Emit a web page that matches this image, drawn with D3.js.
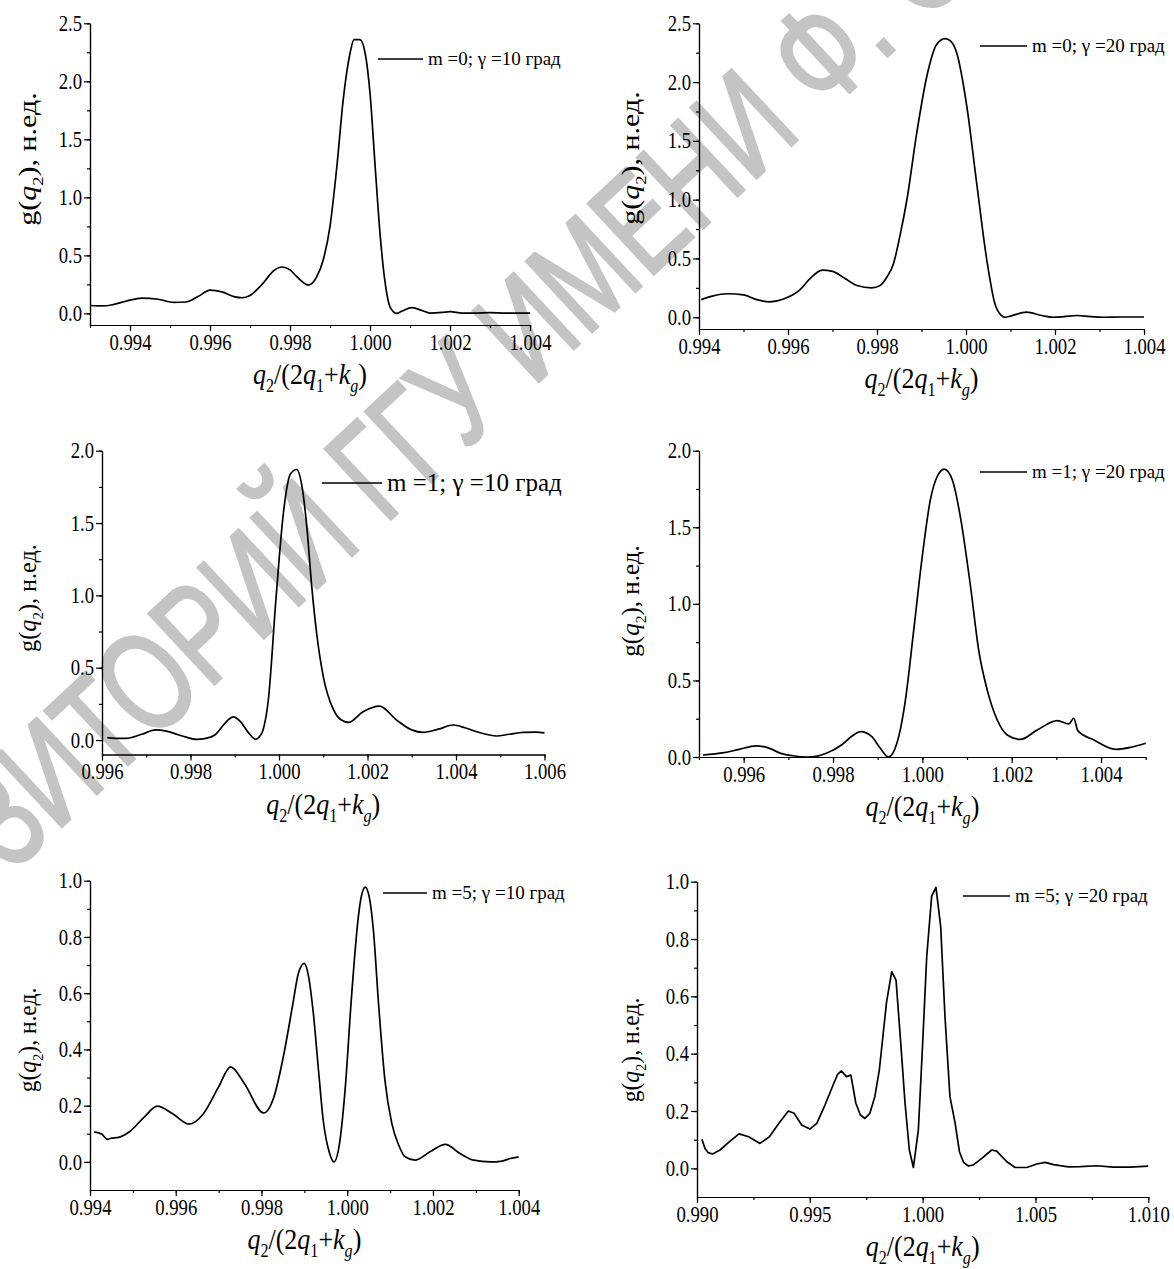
<!DOCTYPE html>
<meta charset="utf-8">
<body style="margin:0;background:#fff">
<svg width="1174" height="1269" style="display:block;background:#fff"></svg>
<script src="https://d3js.org/d3.v7.min.js"></script>
<script>

// curves: [q2/(2q1+kg), g(q2)]
var m0g10 = [[0.9930,0.068],[0.9932,0.065],[0.9934,0.066],[0.9936,0.078],[0.9939,0.105],[0.9943,0.132],[0.9947,0.122],
  [0.9951,0.095],[0.9954,0.098],[0.9957,0.145],[0.9960,0.200],[0.9963,0.185],[0.9966,0.145],[0.9968,0.135],[0.9970,0.155],
  [0.9973,0.250],[0.9976,0.370],[0.9978,0.400],[0.9980,0.375],[0.99817,0.316],[0.99846,0.244],[0.99867,0.316],[0.99883,0.46],
  [0.9990,0.75],[0.99917,1.26],[0.99933,1.84],[0.9995,2.24],[0.9996,2.36],[0.99975,2.36],[0.99988,2.24],[1.0000,1.90],
  [1.00013,1.26],[1.00025,0.69],[1.00038,0.26],[1.0005,0.057],[1.00067,0.0],[1.0008,0.02],[1.00105,0.05],[1.0013,0.025],
  [1.0015,0.003],[1.0018,0.008],[1.0020,0.016],[1.0023,0.003],[1.0026,0.002],[1.0030,0.006],[1.0034,0.002],[1.0040,0.002]];

var m0g20 = [[0.99405,0.15],[0.9943,0.18],[0.99464,0.20],[0.9950,0.19],[0.9953,0.15],[0.99558,0.13],[0.9959,0.155],
  [0.99626,0.23],[0.9965,0.33],[0.99677,0.40],[0.9970,0.39],[0.99728,0.33],[0.99755,0.27],[0.99788,0.25],[0.99807,0.27],
  [0.99822,0.34],[0.99837,0.455],[0.99852,0.70],[0.99867,0.995],[0.99889,1.56],[0.99912,2.05],[0.99934,2.32],[0.99953,2.37],
  [0.99965,2.35],[0.99979,2.25],[1.00002,1.79],[1.00024,1.14],[1.00047,0.48],[1.00065,0.114],[1.00078,0.02],[1.00088,0.0],
  [1.0010,0.01],[1.00136,0.043],[1.0017,0.015],[1.00196,0.0],[1.0022,0.005],[1.00249,0.015],[1.0028,0.005],[1.0031,0.0],
  [1.0035,0.002],[1.0040,0.002]];

var m1g10 = [[0.99612,0.016],[0.9963,0.012],[0.99654,0.012],[0.9969,0.04],[0.99721,0.07],[0.99745,0.062],[0.99763,0.046],
  [0.9979,0.02],[0.99813,0.005],[0.99835,0.012],[0.99855,0.035],[0.99871,0.09],[0.99885,0.14],[0.99897,0.16],[0.99913,0.127],
  [0.9993,0.055],[0.99947,0.005],[0.99955,0.02],[0.99964,0.07],[0.99976,0.28],[0.99993,0.97],[1.0001,1.57],[1.00026,1.84],
  [1.0004,1.87],[1.00051,1.77],[1.00063,1.47],[1.00074,1.06],[1.00085,0.74],[1.0010,0.44],[1.00123,0.21],[1.0014,0.14],
  [1.00157,0.122],[1.0019,0.196],[1.00227,0.235],[1.00266,0.138],[1.0030,0.07],[1.00326,0.053],[1.0036,0.075],[1.00394,0.104],
  [1.0042,0.085],[1.00447,0.057],[1.00492,0.028],[1.0052,0.04],[1.00552,0.053],[1.0058,0.055],[1.0060,0.05]];

var m1g20 = [[0.99509,0.013],[0.99556,0.028],[0.9959,0.05],[0.99628,0.072],[0.99655,0.06],[0.99683,0.024],[0.9971,0.008],
  [0.99742,0.0],[0.99765,0.006],[0.99785,0.024],[0.99819,0.078],[0.99842,0.135],[0.99862,0.166],[0.99887,0.133],[0.99905,0.06],
  [0.99924,0.0],[0.99943,0.09],[0.99962,0.37],[0.9998,0.81],[0.99999,1.29],[1.00018,1.68],[1.00033,1.83],[1.00049,1.88],
  [1.00067,1.81],[1.00085,1.57],[1.00108,1.11],[1.00126,0.70],[1.00145,0.44],[1.00168,0.24],[1.0019,0.144],[1.0022,0.115],
  [1.00257,0.176],[1.00302,0.237],[1.00328,0.216],[1.00339,0.253],[1.00348,0.172],[1.00384,0.111],[1.00433,0.05],
  [1.00466,0.063],[1.0050,0.09]];

var m5g10 = [[0.9941,0.107],[0.99428,0.098],[0.99441,0.08],[0.99449,0.084],[0.99467,0.087],[0.99492,0.107],[0.99527,0.16],
  [0.99557,0.198],[0.99592,0.172],[0.99631,0.134],[0.99665,0.172],[0.9970,0.267],[0.99728,0.338],[0.9976,0.279],[0.99805,0.174],
  [0.99829,0.231],[0.99851,0.374],[0.99873,0.56],[0.99886,0.67],[0.9990,0.706],[0.9991,0.658],[0.99921,0.528],[0.99933,0.326],
  [0.99944,0.148],[0.99959,0.03],[0.99969,0.0],[0.99982,0.065],[0.99995,0.255],[1.0001,0.587],[1.00026,0.872],[1.00032,0.937],
  [1.00042,0.977],[1.00052,0.937],[1.00061,0.825],[1.00073,0.564],[1.00088,0.29],[1.00104,0.137],[1.0012,0.06],[1.00135,0.018],
  [1.00158,0.006],[1.00193,0.036],[1.00229,0.062],[1.00263,0.03],[1.00295,0.006],[1.00334,0.0],[1.00361,0.003],[1.0038,0.012],
  [1.0040,0.018]];

var m5g20 = [[0.99022,0.101],[0.99035,0.07],[0.99049,0.055],[0.99069,0.05],[0.99102,0.064],[0.99144,0.093],[0.99186,0.12],
  [0.99229,0.11],[0.99279,0.087],[0.99321,0.11],[0.99363,0.157],[0.99405,0.2],[0.9943,0.192],[0.99464,0.151],[0.9950,0.137],
  [0.99531,0.157],[0.99564,0.215],[0.99606,0.296],[0.99623,0.328],[0.9964,0.34],[0.99662,0.32],[0.99682,0.325],[0.99704,0.227],
  [0.99724,0.186],[0.99744,0.174],[0.99766,0.192],[0.99788,0.25],[0.99808,0.343],[0.9984,0.58],[0.99863,0.686],[0.99882,0.657],
  [0.99903,0.436],[0.99922,0.227],[0.99941,0.064],[0.99959,0.003],[0.99981,0.134],[1.0000,0.436],[1.00018,0.738],[1.0004,0.95],
  [1.00059,0.98],[1.0008,0.843],[1.00099,0.529],[1.00121,0.25],[1.00144,0.157],[1.00163,0.058],[1.00181,0.021],[1.00203,0.008],
  [1.00225,0.012],[1.00262,0.035],[1.00306,0.064],[1.00328,0.06],[1.00373,0.023],[1.0041,0.003],[1.00461,0.003],[1.00506,0.015],
  [1.00543,0.021],[1.0058,0.013],[1.00646,0.005],[1.00698,0.006],[1.00772,0.009],[1.00845,0.004],[1.00919,0.004],[1.0100,0.008]];

// tick values
var xTicksA = [0.994, 0.996, 0.998, 1.000, 1.002, 1.004];
var xTicksB = [0.996, 0.998, 1.000, 1.002, 1.004, 1.006];
var xTicksC = [0.996, 0.998, 1.000, 1.002, 1.004];
var xTicksD = [0.990, 0.995, 1.000, 1.005, 1.010];
var yTicks25 = [0.0, 0.5, 1.0, 1.5, 2.0, 2.5];
var yTicks20 = [0.0, 0.5, 1.0, 1.5, 2.0];
var yTicks10 = [0.0, 0.2, 0.4, 0.6, 0.8, 1.0];

var legends = ["m =0; \u03b3 =10 град", "m =0; \u03b3 =20 град", "m =1; \u03b3 =10 град",
               "m =1; \u03b3 =20 град", "m =5; \u03b3 =10 град", "m =5; \u03b3 =20 град"];

var serif = "'Liberation Serif','Times New Roman',serif";
var svg = d3.select("svg");

// repository watermark, under the plots
var wmText = "РЕПОЗИТОРИЙ ГГУ ИМЕНИ Ф. СКОРИНЫ";
var wm = svg.append("text")
  .attr("font-family", "'Liberation Sans',Arial,sans-serif")
  .attr("font-size", 140)
  .attr("fill", "#c4c4c4")
  .attr("stroke", "#c4c4c4")
  .attr("stroke-width", 3)
  .text(wmText);
(function() {
  var n = wm.node();
  var e1 = n.getExtentOfChar(7), e2 = n.getExtentOfChar(22);
  var c1 = [e1.x + e1.width / 2, -0.36 * 140], c2 = [e2.x + e2.width / 2, -0.36 * 140];
  var A = [145, 680], B = [818, 52];
  var ang = Math.atan2(B[1] - A[1], B[0] - A[0]) * 180 / Math.PI;
  var sx = Math.hypot(B[0] - A[0], B[1] - A[1]) / (c2[0] - c1[0]);
  wm.attr("transform", "translate(" + A + ") rotate(" + ang + ") scale(" + sx + ",1) translate(" + (-c1[0]) + "," + (-c1[1]) + ")");
})();

var panels = [
  {data: m0g10, leg: legends[0], xd: [0.993, 1.004], xr: [90, 530], yd: [-0.1, 2.5], yr: [325, 23.3],
   xt: xTicksA, xm: 0.001, yt: yTicks25, ym: 0.25, lx: [378, 423], ly: 59, lfs: 19, ytc: 159, ytx: 36, yts: 1.2, curve: d3.curveMonotoneX},
  {data: m0g20, leg: legends[1], xd: [0.994, 1.004], xr: [699, 1144], yd: [-0.1, 2.5], yr: [329, 23.3],
   xt: xTicksA, xm: 0.001, yt: yTicks25, ym: 0.25, lx: [980, 1027], ly: 46, lfs: 19, ytc: 158, ytx: 639, yts: 1.2, curve: d3.curveMonotoneX},
  {data: m1g10, leg: legends[2], xd: [0.996, 1.006], xr: [102, 544.5], yd: [-0.1, 2.0], yr: [754.5, 450.7],
   xt: xTicksB, xm: 0.001, yt: yTicks20, ym: 0.25, lx: [322, 382], ly: 483, lfs: 25, ytc: 598, ytx: 36, yts: 0.97, curve: d3.curveMonotoneX},
  {data: m1g20, leg: legends[3], xd: [0.995, 1.005], xr: [699, 1145.7], yd: [0, 2.0], yr: [757, 450.7],
   xt: xTicksC, xm: 0.001, yt: yTicks20, ym: 0.25, lx: [980, 1027], ly: 472, lfs: 19, ytc: 601, ytx: 639, yts: 1.0, curve: d3.curveMonotoneX},
  {data: m5g10, leg: legends[4], xd: [0.994, 1.004], xr: [90, 518.7], yd: [-0.1, 1.0], yr: [1190, 880.7],
   xt: xTicksA, xm: 0.001, yt: yTicks10, ym: 0.1, lx: [383, 427], ly: 893, lfs: 19, ytc: 1040, ytx: 36, yts: 0.94, curve: d3.curveMonotoneX},
  {data: m5g20, leg: legends[5], xd: [0.990, 1.010], xr: [697, 1148.3], yd: [-0.1, 1.0], yr: [1197, 881.7],
   xt: xTicksD, xm: 0.0025, yt: yTicks10, ym: 0.1, lx: [963, 1010], ly: 896, lfs: 19, ytc: 1050, ytx: 639, yts: 0.94, curve: d3.curveLinear}
];

function minorTicks(domain, step) {
  var out = [];
  var start = Math.ceil(domain[0] / step - 1e-6);
  for (var k = start; k * step <= domain[1] + 1e-9; k++) out.push(+(k * step).toFixed(6));
  return out;
}

function styleAxis(g) {
  g.attr("font-family", serif).attr("font-size", 18.7);
  g.selectAll(".domain").attr("stroke", "#000").attr("stroke-width", 1.2);
  g.selectAll(".tick line").attr("stroke", "#000").attr("stroke-width", 1.2);
  g.selectAll(".tick text").attr("fill", "#000");
}

// text with italic letters and subscripts
function richText(t, parts, fs) {
  var shift = 0;
  parts.forEach(function(p) {
    var s = t.append("tspan").text(p.t);
    if (p.i) s.attr("font-style", "italic");
    var want = p.sub ? 0.28 * fs : 0;
    if (want !== shift) { s.attr("dy", want - shift); shift = want; }
    if (p.sub) s.attr("font-size", fs * 0.62);
  });
}

var stretch = 1.19; // the source figure is a little taller than wide

panels.forEach(function(p) {
  var x = d3.scaleLinear().domain(p.xd).range(p.xr);
  var y = d3.scaleLinear().domain(p.yd).range(p.yr);
  var g = svg.append("g");

  var xAxisY = p.yr[0];
  g.append("g").attr("transform", "translate(0," + xAxisY + ")")
    .call(d3.axisBottom(x).tickValues(minorTicks(p.xd, p.xm)).tickSize(3).tickSizeOuter(0).tickFormat(""))
    .call(styleAxis);
  g.append("g").attr("transform", "translate(0," + xAxisY + ")")
    .call(d3.axisBottom(x).tickValues(p.xt).tickSize(6).tickSizeOuter(0).tickFormat(d3.format(".3f")))
    .call(styleAxis)
    .selectAll(".tick text").attr("y", 25 / stretch).attr("dy", null)
    .attr("transform", "scale(1," + stretch + ")");

  g.append("g").attr("transform", "translate(" + p.xr[0] + ",0)")
    .call(d3.axisLeft(y).tickValues(minorTicks(p.yd, p.ym).filter(function(v) { return v >= 0; })).tickSize(3).tickSizeOuter(0).tickFormat(""))
    .call(styleAxis);
  g.append("g").attr("transform", "translate(" + p.xr[0] + ",0)")
    .call(d3.axisLeft(y).tickValues(p.yt).tickSize(6).tickSizeOuter(0).tickPadding(2).tickFormat(d3.format(".1f")))
    .call(styleAxis)
    .selectAll(".tick text").attr("transform", "scale(1," + stretch + ")");

  var line = d3.line().x(function(d) { return x(d[0]); }).y(function(d) { return y(d[1]); }).curve(p.curve);
  g.append("path").datum(p.data).attr("d", line)
    .attr("fill", "none").attr("stroke", "#000").attr("stroke-width", 1.7).attr("stroke-linejoin", "round");

  // legend
  g.append("line").attr("x1", p.lx[0]).attr("x2", p.lx[1]).attr("y1", p.ly).attr("y2", p.ly)
    .attr("stroke", "#000").attr("stroke-width", 1.7);
  g.append("text").attr("x", p.lx[1] + 5).attr("y", p.ly).attr("dy", "0.33em")
    .attr("font-family", serif).attr("font-size", p.lfs).text(p.leg);

  // axis titles
  var xt = g.append("text")
    .attr("transform", "translate(" + ((p.xr[0] + p.xr[1]) / 2) + "," + (xAxisY + 59) + ") scale(1,1.12)")
    .attr("text-anchor", "middle").attr("font-family", serif).attr("font-size", 26);
  richText(xt, [{t: "q", i: 1}, {t: "2", sub: 1}, {t: "/(2"}, {t: "q", i: 1}, {t: "1", sub: 1},
                {t: "+"}, {t: "k", i: 1}, {t: "g", i: 1, sub: 1}, {t: ")"}], 26);

  var yt = g.append("text")
    .attr("transform", "translate(" + p.ytx + "," + p.ytc + ") rotate(-90) scale(" + p.yts + ",1)")
    .attr("text-anchor", "middle").attr("font-family", serif).attr("font-size", 25);
  richText(yt, [{t: "g("}, {t: "q", i: 1}, {t: "2", sub: 1}, {t: "), н.ед."}], 25);
});

</script>
</body>
